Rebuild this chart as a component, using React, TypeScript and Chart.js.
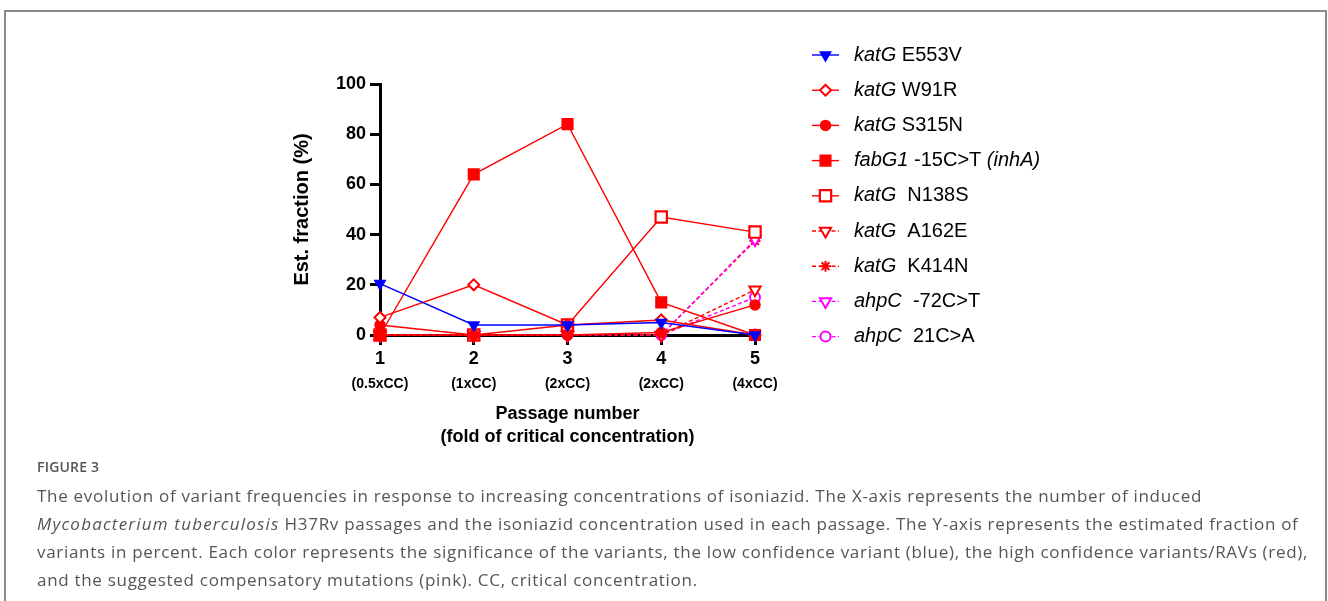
import React, { useEffect, useRef } from "react";
import { Chart, registerables } from "chart.js";
import { drawPoint } from "chart.js/helpers";

Chart.register(...registerables);

// ---- data ----
const passages = ["1", "2", "3", "4", "5"];
const ccLabels = ["(0.5xCC)", "(1xCC)", "(2xCC)", "(2xCC)", "(4xCC)"];

const katG_E553V = [20.5, 4, 4, 5, 0];
const katG_W91R = [7, 20, 4, 6, 0];
const katG_S315N = [4, 0, 0, 1, 12];
const fabG1_15CT = [0, 64, 84, 13, 0];
const katG_N138S = [0, 0, 4, 47, 41];
const katG_A162E = [0, 0, 0, 0, 18];
const katG_K414N = [0, 0, 0, 0, 37.5];
const ahpC_72CT = [0, 0, 0, 0, 38];
const ahpC_21CA = [0, 0, 0, 0, 15];

const geneNames = ["katG", "katG", "katG", "fabG1", "katG", "katG", "katG", "ahpC", "ahpC"];
const variantNames = [" E553V", " W91R", " S315N", " -15C>T ", "  N138S", "  A162E", "  K414N", "  -72C>T", "  21C>A"];
const variantSuffix = ["", "", "", "(inhA)", "", "", "", "", ""];

const yTitle = "Est. fraction (%)";
const xTitle = ["Passage number", "(fold of critical concentration)"];

const RED = "#ff0000";
const BLUE = "#0000ff";
const MAG = "#ff00ff";
const FONT = "'Liberation Sans', Arial, Helvetica, sans-serif";

function mk(label: string, data: number[], color: string, style: any) {
  return {
    label,
    data,
    borderColor: color,
    backgroundColor: color,
    borderWidth: 1.4,
    borderDash: style.dash || [],
    pointStyle: style.ps,
    pointRadius: style.r,
    pointHoverRadius: style.r,
    pointRotation: style.rot || 0,
    pointBackgroundColor: style.fill ? color : "#ffffff",
    pointBorderColor: color,
    pointBorderWidth: style.bw || 1.5,
    tension: 0,
    order: style.order || 0,
    clip: false as any,
  };
}

const legendPlugin = {
  id: "customLegend",
  afterDraw(chart: any) {
    const ctx = chart.ctx;
    const xScale = chart.scales.x;
    // sub tick labels (fold of CC)
    ctx.save();
    ctx.fillStyle = "#000";
    ctx.font = `bold 14px ${FONT}`;
    ctx.textAlign = "center";
    ctx.textBaseline = "middle";
    ccLabels.forEach((t, i) => {
      ctx.fillText(t, xScale.getPixelForValue(i), 384);
    });
    ctx.restore();

    // legend
    const x0 = 812, x1 = 839, xm = 825.5, tx = 854;
    chart.data.datasets.forEach((ds: any, i: number) => {
      const y = 55 + i * 35.2;
      ctx.save();
      ctx.strokeStyle = ds.borderColor;
      ctx.lineWidth = ds.borderWidth;
      ctx.setLineDash(ds.borderDash || []);
      ctx.beginPath();
      ctx.moveTo(x0, y);
      ctx.lineTo(x1, y);
      ctx.stroke();
      ctx.setLineDash([]);
      ctx.fillStyle = ds.pointBackgroundColor;
      ctx.strokeStyle = ds.pointBorderColor;
      ctx.lineWidth = ds.pointBorderWidth;
      drawPoint(ctx, { pointStyle: ds.pointStyle, radius: ds.pointRadius, rotation: ds.pointRotation, borderWidth: ds.pointBorderWidth } as any, xm, y);
      ctx.restore();

      ctx.save();
      ctx.fillStyle = "#000";
      ctx.textBaseline = "middle";
      ctx.textAlign = "left";
      let cx = tx;
      ctx.font = `italic 20px ${FONT}`;
      ctx.fillText(geneNames[i], cx, y);
      cx += ctx.measureText(geneNames[i]).width;
      ctx.font = `20px ${FONT}`;
      ctx.fillText(variantNames[i], cx, y);
      cx += ctx.measureText(variantNames[i]).width;
      if (variantSuffix[i]) {
        ctx.font = `italic 20px ${FONT}`;
        ctx.fillText(variantSuffix[i], cx, y);
      }
      ctx.restore();
    });
  },
};

export default function App() {
  const ref = useRef<HTMLCanvasElement | null>(null);

  useEffect(() => {
    if (!ref.current) return;
    const datasets = [
      mk("katG E553V", katG_E553V, BLUE, { ps: "triangle", r: 6, rot: 180, fill: true }),
      mk("katG W91R", katG_W91R, RED, { ps: "rectRot", r: 5.5, bw: 2 }),
      mk("katG S315N", katG_S315N, RED, { ps: "circle", r: 5, fill: true }),
      mk("fabG1 -15C>T (inhA)", fabG1_15CT, RED, { ps: "rect", r: 7.5, fill: true }),
      mk("katG N138S", katG_N138S, RED, { ps: "rect", r: 8, bw: 2.2 }),
      mk("katG A162E", katG_A162E, RED, { ps: "triangle", r: 6.5, rot: 180, bw: 2, dash: [4, 2.5] }),
      mk("katG K414N", katG_K414N, RED, { ps: "star", r: 5.5, bw: 2, dash: [4, 2.5], order: 2 }),
      mk("ahpC -72C>T", ahpC_72CT, MAG, { ps: "triangle", r: 6.5, rot: 180, bw: 2, dash: [4, 2.5] }),
      mk("ahpC 21C>A", ahpC_21CA, MAG, { ps: "circle", r: 5, bw: 2, dash: [4, 2.5] }),
    ];
    const tickFont = { family: FONT, size: 18, weight: "bold" as const };
    const chart = new Chart(ref.current, {
      type: "line",
      data: { labels: passages, datasets },
      options: {
        animation: false,
        responsive: false,
        maintainAspectRatio: false,
        layout: { padding: { left: 280, right: 573, top: 84, bottom: 11 } },
        plugins: { legend: { display: false }, tooltip: { enabled: false } },
        scales: {
          x: {
            type: "category",
            offset: false,
            grid: { display: true, drawOnChartArea: false, drawTicks: true, tickLength: 10, color: "#000", lineWidth: 3 },
            border: { display: true, color: "#000", width: 3 },
            ticks: { color: "#000", font: tickFont, padding: 3, maxRotation: 0, autoSkip: false },
            title: {
              display: true,
              text: xTitle,
              color: "#000",
              font: { family: FONT, size: 18, weight: "bold", lineHeight: 1.3 },
              padding: { top: 0, bottom: 0 },
            },
            afterFit(s: any) { s.height = 114; },
          },
          y: {
            min: 0,
            max: 100,
            grid: { display: true, drawOnChartArea: false, drawTicks: true, tickLength: 10, color: "#000", lineWidth: 3 },
            border: { display: true, color: "#000", width: 3 },
            ticks: { stepSize: 20, color: "#000", font: tickFont, padding: 4 },
            title: {
              display: true,
              text: yTitle,
              color: "#000",
              font: { family: FONT, size: 20, weight: "bold", lineHeight: 1.2 },
              padding: { top: 10, bottom: 0 },
            },
            afterFit(s: any) { s.width = 100; },
          },
        },
      } as any,
      plugins: [legendPlugin],
    });
    return () => chart.destroy();
  }, []);

  const capLine: React.CSSProperties = { whiteSpace: "nowrap", height: 28, lineHeight: "28px" };

  return (
    <div style={{ position: "absolute", left: 0, top: 0, width: 1328, height: 601, background: "#fff", overflow: "hidden" }}>
      <canvas ref={ref} width={1328} height={460} style={{ position: "absolute", left: 0, top: 0, width: 1328, height: 460 }} />
      <div style={{ position: "absolute", left: 4, top: 10, width: 1323, height: 700, border: "2px solid #8a8a8a", boxSizing: "border-box", pointerEvents: "none" }} />
      <div style={{ position: "absolute", left: 37, top: 456, fontFamily: "'Open Sans', sans-serif", color: "#555" }}>
        <div style={{ fontSize: 14, fontWeight: 600, height: 26, lineHeight: "22px", letterSpacing: 0.2 }}>FIGURE 3</div>
        <div style={{ fontSize: 17, letterSpacing: 0.7 }}>
          <div style={capLine}>The evolution of variant frequencies in response to increasing concentrations of isoniazid. The X-axis represents the number of induced</div>
          <div style={capLine}><i style={{ letterSpacing: 1.2 }}>Mycobacterium tuberculosis</i> H37Rv passages and the isoniazid concentration used in each passage. The Y-axis represents the estimated fraction of</div>
          <div style={capLine}>variants in percent. Each color represents the significance of the variants, the low confidence variant (blue), the high confidence variants/RAVs (red),</div>
          <div style={capLine}>and the suggested compensatory mutations (pink). CC, critical concentration.</div>
        </div>
      </div>
    </div>
  );
}
